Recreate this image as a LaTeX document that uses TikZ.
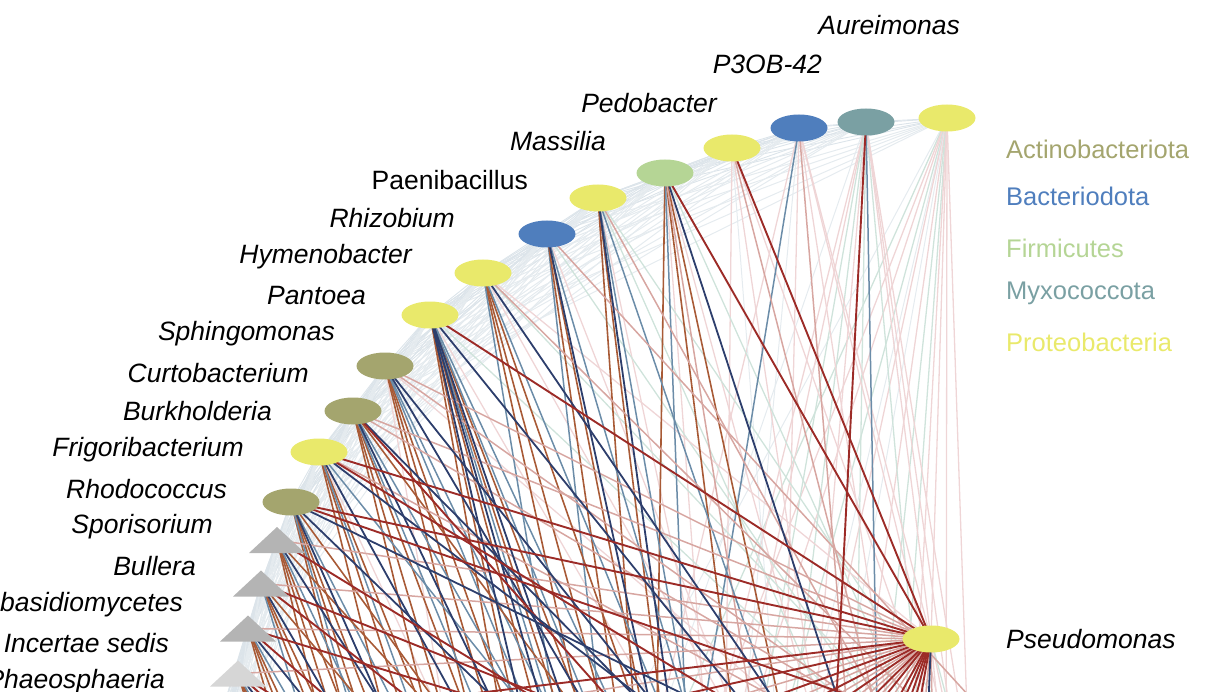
\documentclass[tikz,border=0pt]{standalone}
\usepackage{fontspec}
\setmainfont{Liberation Sans}
\usetikzlibrary{shapes.geometric}
\pgfdeclarelayer{bg}
\pgfsetlayers{bg,main}
\definecolor{cYel}{HTML}{E9E96B}
\definecolor{cOli}{HTML}{A4A56E}
\definecolor{cBlu}{HTML}{4F7EBD}
\definecolor{cTea}{HTML}{7AA0A3}
\definecolor{cGrn}{HTML}{B5D595}
\definecolor{cTri}{HTML}{B4B4B4}
\definecolor{cTriL}{HTML}{D6D6D6}
\definecolor{cER}{HTML}{9C2B27}
\definecolor{cEB}{HTML}{A85A36}
\definecolor{cEN}{HTML}{2D3E6C}
\definecolor{cES}{HTML}{6B8CA8}
\definecolor{cEP}{HTML}{D7A6A1}
\definecolor{cELP}{HTML}{EFD5D6}
\definecolor{cEG}{HTML}{CFE3DB}
\definecolor{cEGr}{HTML}{E5EBEF}
\definecolor{cHaze}{HTML}{DCE4EA}
\begin{document}
\begin{tikzpicture}[x=1pt,y=-1pt,
  ell/.style={ellipse,minimum width=57pt,minimum height=27pt,inner sep=0pt,fill=#1},
  trinode/.style={rectangle,minimum width=56pt,minimum height=26pt,inner sep=0pt,
    path picture={\fill[#1] (path picture bounding box.south west) -- (path picture bounding box.south east) -- (path picture bounding box.north) -- cycle;}},
  lab/.style={font=\fontsize{26.5}{28}\selectfont\itshape,anchor=east,inner sep=0pt},
  labup/.style={font=\fontsize{26.5}{28}\selectfont,anchor=east,inner sep=0pt},
  leg/.style={font=\fontsize{25.5}{28}\selectfont,anchor=west,inner sep=0pt},
  eRed/.style={draw=cER,line width=1.9pt},
  eBrown/.style={draw=cEB,line width=1.6pt},
  eNavy/.style={draw=cEN,line width=1.8pt},
  eSteel/.style={draw=cES,line width=1.5pt},
  ePink/.style={draw=cEP,line width=1.5pt},
  eLpink/.style={draw=cELP,line width=1.3pt},
  eGreen/.style={draw=cEG,line width=1.3pt},
  eGrey/.style={draw=cEGr,line width=1pt},
  eHaze/.style={draw=cHaze,line width=0.9pt}]
\useasboundingbox (0,0) rectangle (1230,692);
\clip (0,0) rectangle (1230,692);

% nodes on the arc
\node[ell=cYel] (n1) at (947,118) {};
\node[ell=cTea] (n2) at (866,122) {};
\node[ell=cBlu] (n3) at (799,128) {};
\node[ell=cYel] (n4) at (732,148) {};
\node[ell=cGrn] (n5) at (665,173) {};
\node[ell=cYel] (n6) at (598,198) {};
\node[ell=cBlu] (n7) at (547,234) {};
\node[ell=cYel] (n8) at (483,273) {};
\node[ell=cYel] (n9) at (430,315) {};
\node[ell=cOli] (n10) at (385,366) {};
\node[ell=cOli] (n11) at (353,411) {};
\node[ell=cYel] (n12) at (319,452) {};
\node[ell=cOli] (n13) at (291,502) {};
\node[trinode=cTri] (n14) at (277,540) {};
\node[trinode=cTri] (n15) at (261,583.5) {};
\node[trinode=cTri] (n16) at (248,628.5) {};
\node[trinode=cTriL] (n17) at (238,673.5) {};
\node[ell=cYel] (P) at (931,639) {};

% nodes of the circle outside the frame
\foreach \ang in {166,168,...,378}
  \coordinate (a\ang) at ({945+738*cos(\ang)},{852-738*sin(\ang)});
\foreach \i/\ang in {18/170,19/174,20/178,21/182,22/186}
  \coordinate (n\i) at (a\ang);

% labels
\node[lab] (l1) at (960,25) {Aureimonas};
\node[lab] (l2) at (822,64) {P3OB-42};
\node[lab] (l3) at (717,103) {Pedobacter};
\node[lab] (l4) at (606,141) {Massilia};
\node[labup] (l5) at (528,180) {Paenibacillus};
\node[lab] (l6) at (455,218) {Rhizobium};
\node[lab] (l7) at (412,257) {Hymenobacter};
\node[lab] (l8) at (366,296) {Pantoea};
\node[lab] (l9) at (335,334) {Sphingomonas};
\node[lab] (l10) at (309,373) {Curtobacterium};
\node[lab] (l11) at (272,411) {Burkholderia};
\node[lab] (l12) at (244,450) {Frigoribacterium};
\node[lab] (l13) at (227,489) {Rhodococcus};
\node[lab] (l14) at (213,527) {Sporisorium};
\node[lab] (l15) at (196,566) {Bullera};
\node[lab] (l16) at (183,605) {Exobasidiomycetes};
\node[lab] (l17) at (169,643) {fam Incertae sedis};
\node[lab] (l18) at (165,682) {Phaeosphaeria};
\node[lab,anchor=west] (lP) at (1006,639) {Pseudomonas};

% legend
\node[leg,text=cOli] (g1) at (1006,149) {Actinobacteriota};
\node[leg,text=cBlu] (g2) at (1006,196) {Bacteriodota};
\node[leg,text=cGrn] (g3) at (1006,248) {Firmicutes};
\node[leg,text=cTea] (g4) at (1006,293) {Myxococcota};
\node[leg,text=cYel] (g5) at (1006,342) {Proteobacteria};

\begin{pgfonlayer}{bg}
% haze of chords along the arc
\foreach \i in {1,...,21} {
  \foreach \k in {1,...,10} {
    \pgfmathtruncatemacro\j{\i+\k}
    \ifnum\j<23
      \ifnum\k<6
        \draw[eHaze] (n\i.center) -- (n\j.center);
      \else
        \draw[eGrey] (n\i.center) -- (n\j.center);
      \fi
    \fi
  }
}
% light edges
\foreach \s/\t/\c in {
 n1/a214/eGrey, n1/a222/eGreen, n1/a228/eLpink, n1/a234/eLpink, n1/a240/eGreen, n1/a244/eGrey, n1/a246/eLpink,
 n1/a250/eGrey, n1/a254/eLpink, n1/a258/eGreen, n1/a262/eGreen, n1/a264/eLpink, n1/a270/eLpink, n1/a274/eLpink, n1/P/eLpink,
 n2/a274/eGreen, n2/a280/eLpink, n2/a236/eLpink, n2/a240/eLpink, n2/a244/eGreen, n2/a250/eGreen, n2/a254/eLpink,
 n2/a262/eGreen, n2/a226/eGrey, n2/a282/eLpink, n2/P/eLpink,
 n3/a276/eLpink, n3/a232/eLpink, n3/a256/eLpink, n3/a286/eLpink, n3/a248/eGrey, n3/P/eLpink,
 n4/a262/eGrey, n4/a252/eLpink, n4/a292/eLpink, n4/a270/eLpink,
 n5/a256/eLpink, n5/a278/eLpink, n5/a296/eGreen,
 n6/a266/eLpink, n6/a290/eGreen, n6/a310/eGreen,
 n7/a306/eGreen, n7/a280/eLpink,
 n8/a318/eGreen, n8/a290/eLpink, n8/P/eLpink,
 n9/a286/eLpink, n9/a320/eGreen,
 n10/a240/eLpink, n10/a320/eLpink,
 n12/a262/eLpink,
 P/a276/eLpink, P/a284/eLpink, P/a288/eGreen}
  \draw[\c] (\s.center) -- (\t.center);
% medium edges
\foreach \s/\t/\c in {
 n2/a266/eSteel,
 n3/a240/eSteel, n3/a268/ePink,
 n4/a282/ePink,
 n5/a246/eBrown, n5/a262/eBrown, n5/a272/eBrown, n5/a266/ePink, n5/a252/eSteel,
 n6/a256/eBrown, n6/a280/eSteel, n6/a300/ePink, n6/a250/eBrown, n6/a262/eSteel,
 n7/a260/eBrown, n7/a322/ePink, n7/a250/eSteel, n7/a254/eBrown, n7/a270/eSteel,
 n8/a322/ePink, n8/a262/eBrown, n8/a270/eBrown, n8/a276/eSteel, n8/a256/eBrown, n8/a250/eSteel,
 n9/a246/eBrown, n9/a256/eBrown, n9/a262/eBrown, n9/a268/eBrown, n9/a270/eSteel, n9/a276/eSteel, n9/a250/eBrown, n9/a260/eSteel,
 n10/a330/ePink, n10/a254/eBrown, n10/a260/eBrown, n10/a266/eSteel, n10/P/ePink, n10/a248/eBrown, n10/a272/eSteel,
 n11/a336/ePink, n11/a250/eBrown, n11/a258/eBrown, n11/a262/eSteel, n11/P/ePink, n11/a244/eBrown, n11/a276/eSteel, n11/a290/eBrown,
 n12/a248/eBrown, n12/a256/eBrown, n12/a252/eSteel, n12/a240/eBrown, n12/a290/eSteel, n12/a336/ePink,
 n13/a244/eBrown, n13/a250/eBrown, n13/a262/eSteel, n13/a236/eBrown, n13/a280/eBrown, n13/a240/eSteel,
 n14/P/ePink, n14/a248/eBrown, n14/a240/eBrown, n14/a256/eSteel, n14/a232/eBrown, n14/a290/eBrown,
 n15/P/ePink, n15/a244/eBrown, n15/a252/eBrown, n15/a236/eSteel, n15/a282/eBrown,
 n16/P/ePink, n16/a240/eBrown, n16/a248/eBrown, n16/a230/eBrown, n16/a258/eSteel,
 n17/P/ePink, n17/a236/eBrown, n17/a244/eBrown, n17/a252/eSteel, n17/a228/eBrown,
 a172/P/ePink, a180/P/ePink, a188/P/ePink, a196/P/ePink, a204/P/ePink, a208/P/ePink,
 a216/P/ePink, a226/P/ePink, a262/P/ePink, a270/P/ePink}
  \draw[\c] (\s.center) -- (\t.center);
% dark edges
\foreach \s/\t/\c in {
 n2/a258/eRed,
 n4/P/eRed,
 n5/P/eRed, n5/a284/eNavy,
 n6/a258/eNavy,
 n7/a262/eNavy,
 n8/a300/eNavy,
 n9/P/eRed, n9/a252/eNavy, n9/a258/eNavy, n9/a264/eNavy, n9/a304/eNavy,
 n10/a298/eNavy, n10/a282/eNavy,
 n11/a306/eNavy, n11/a300/eRed, n11/a268/eNavy,
 n12/a330/eRed, n12/a318/eNavy, n12/P/eRed, n12/a270/eNavy,
 n13/P/eRed, n13/a336/eNavy, n13/a256/eNavy, n13/a300/eNavy, n13/a350/eRed,
 n14/a322/eRed, n14/a270/eNavy,
 n15/a338/eRed, n15/a262/eNavy, n15/a306/eRed,
 n16/a344/eRed, n16/a276/eNavy, n16/a296/eRed,
 n17/a310/eRed, n17/a270/eNavy, n17/a290/eRed,
 a170/P/eRed, a176/P/eRed, a184/P/eRed, a192/P/eRed, a200/P/eRed, a212/P/eRed,
 a220/P/eRed, a232/P/eRed, a238/P/eRed, a244/P/eRed, a250/P/eRed, a256/P/eRed, a266/P/eNavy}
  \draw[\c] (\s.center) -- (\t.center);
\end{pgfonlayer}
\end{tikzpicture}
\end{document}
